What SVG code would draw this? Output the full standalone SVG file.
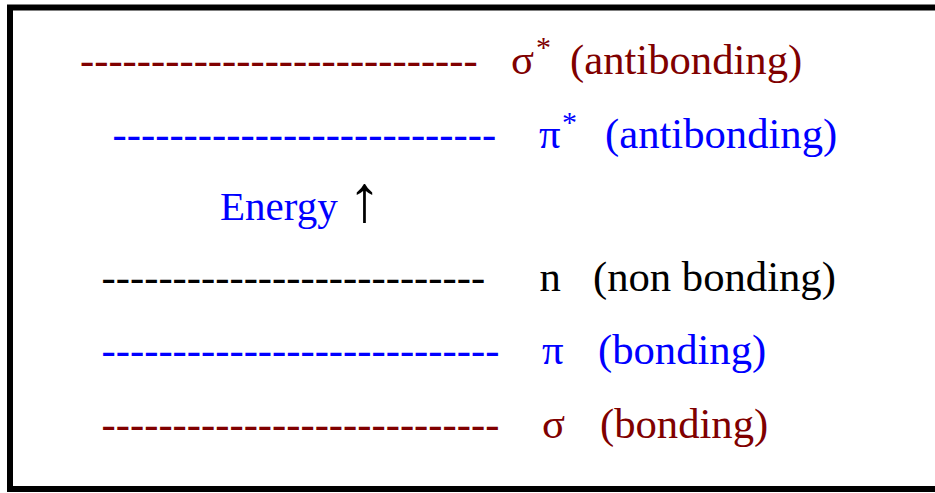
<svg xmlns="http://www.w3.org/2000/svg" width="935" height="493" viewBox="0 0 935 493">
<style>
text{font-family:"Liberation Serif","Times New Roman",serif;font-size:42.67px}
.red{fill:#800000}
.blue{fill:#0000ff}
.blk{fill:#000000}
.sup{font-size:30px}
</style>
<rect width="935" height="493" fill="#ffffff"/>
<rect id="frame" x="10" y="7.5" width="1000" height="481.5" fill="none" stroke="#000" stroke-width="6"/>
<g id="sigma-star">
<text class="red" y="74"><tspan x="80">----------------------------</tspan><tspan x="511">σ</tspan><tspan class="sup" x="536" y="57">*</tspan><tspan x="570" y="74">(antibonding)</tspan></text>
</g>
<g id="pi-star">
<text class="blue" y="148"><tspan x="112.6">---------------------------</tspan><tspan x="539">π</tspan><tspan class="sup" x="562" y="132">*</tspan><tspan x="605" y="148">(antibonding)</tspan></text>
</g>
<g id="energy">
<text class="blue" x="220" y="220" style="font-size:41px">Energy</text>
<text class="blk" x="348" y="221" style="font-size:66px">↑</text>
</g>
<g id="n-nonbonding">
<text class="blk" y="291"><tspan x="101.6">---------------------------</tspan><tspan x="539.5">n</tspan><tspan x="593">(non bonding)</tspan></text>
</g>
<g id="pi-bonding">
<text class="blue" y="364"><tspan x="101.6">----------------------------</tspan><tspan x="542">π</tspan><tspan x="598">(bonding)</tspan></text>
</g>
<g id="sigma-bonding">
<text class="red" y="438"><tspan x="101.6">----------------------------</tspan><tspan x="542">σ</tspan><tspan x="600">(bonding)</tspan></text>
</g>
</svg>
